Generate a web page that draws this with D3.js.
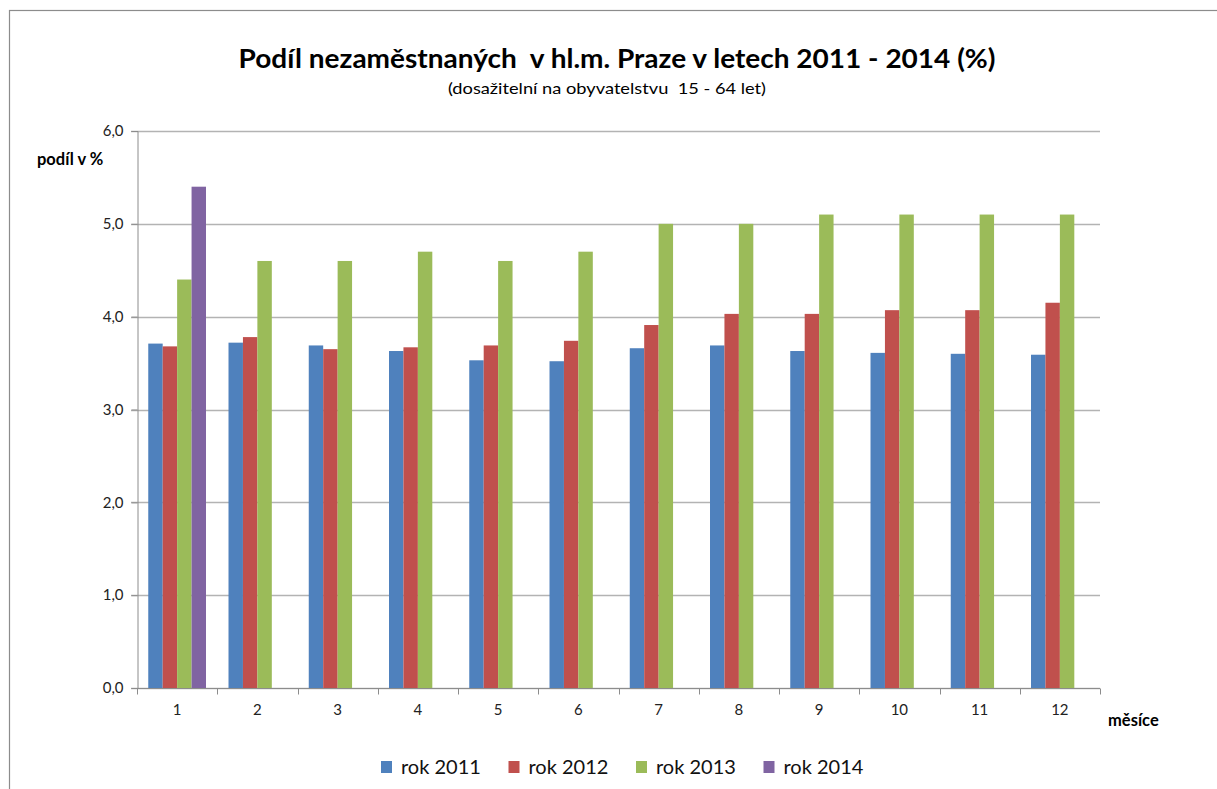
<!DOCTYPE html>
<html>
<head>
<meta charset="utf-8">
<script src="https://cdn.jsdelivr.net/npm/d3@7"></script>
<style>
  body { margin: 0; background: #fff; }
  svg text { font-family: Lato, "Open Sans", sans-serif; white-space: pre; }
</style>
</head>
<body>
<svg id="chart"></svg>
<script>
let width = 1217;
let height = 789;

// data
let months = ["1", "2", "3", "4", "5", "6", "7", "8", "9", "10", "11", "12"];
let years = ["rok 2011", "rok 2012", "rok 2013", "rok 2014"];
let rok2011 = [3.71, 3.72, 3.69, 3.63, 3.53, 3.52, 3.66, 3.69, 3.63, 3.61, 3.60, 3.59];
let rok2012 = [3.68, 3.78, 3.65, 3.67, 3.69, 3.74, 3.91, 4.03, 4.03, 4.07, 4.07, 4.15];
let rok2013 = [4.4, 4.6, 4.6, 4.7, 4.6, 4.7, 5.0, 5.0, 5.1, 5.1, 5.1, 5.1];
let rok2014 = [5.4, null, null, null, null, null, null, null, null, null, null, null];
let yTicks = [0, 1, 2, 3, 4, 5, 6];
let colors = ["#4F81BD", "#C0504D", "#9BBB59", "#8064A2"];

let series = [rok2011, rok2012, rok2013, rok2014];

let margin = { left: 137, right: 117, top: 131, bottom: 101 };

let svg = d3.select("#chart")
    .attr("width", width)
    .attr("height", height)

// outer frame
svg.append("rect")
    .attr("x", 9.5).attr("y", 10.5)
    .attr("width", 1220).attr("height", 790)
    .attr("fill", "none")
    .attr("stroke", "#8c8c8c")
    .attr("stroke-width", 1.2)

let x = d3.scaleBand()
    .domain(months)
    .range([margin.left, width - margin.right])
    .paddingInner(0)
    .paddingOuter(0)

let xInner = d3.scaleBand()
    .domain(years)
    .range([0, x.bandwidth()])
    .paddingOuter(0.78)
    .paddingInner(0)

let y = d3.scaleLinear()
    .domain([0, 6])
    .range([height - margin.bottom, margin.top])

// gridlines
svg.append("g")
    .selectAll("line")
    .data(yTicks)
    .enter()
    .append("line")
    .attr("x1", margin.left - 6)
    .attr("x2", width - margin.right)
    .attr("y1", d => Math.round(y(d)) + 0.5)
    .attr("y2", d => Math.round(y(d)) + 0.5)
    .attr("stroke", "#b3b3b3")
    .attr("stroke-width", 1.3)

// bars
let rows = [];
series.forEach((vals, s) => {
    vals.forEach((v, i) => {
        if (v != null) rows.push({ month: months[i], year: years[s], value: v, s: s })
    })
})

svg.append("g")
    .selectAll("rect")
    .data(rows)
    .enter()
    .append("rect")
    .attr("x", d => x(d.month) + xInner(d.year))
    .attr("y", d => y(d.value))
    .attr("width", xInner.bandwidth())
    .attr("height", d => y(0) - y(d.value))
    .attr("fill", d => colors[d.s])

// y axis
let yAxis = svg.append("g")
    .attr("transform", `translate(${margin.left + 0.5},0)`)
    .call(d3.axisLeft(y).tickValues(yTicks).tickSize(6).tickPadding(8)
        .tickFormat(d => d3.format(".1f")(d).replace(".", ",")))
yAxis.select(".domain").attr("stroke", "#8c8c8c")
yAxis.selectAll(".tick line").attr("stroke", "#8c8c8c")
yAxis.selectAll("text").attr("font-size", "15px").attr("fill", "#222")

// x axis
let xAxis = svg.append("g")
    .attr("transform", `translate(0,${Math.round(y(0)) + 0.5})`)
    .call(d3.axisBottom(x).tickSize(0).tickPadding(16))
xAxis.select(".domain").attr("stroke", "#8c8c8c").attr("d", `M${margin.left},0H${width - margin.right}`)
xAxis.selectAll("text").attr("font-size", "15px").attr("fill", "#222")
// category boundary ticks
xAxis.append("g")
    .selectAll("line")
    .data(months.concat(["end"]))
    .enter()
    .append("line")
    .attr("x1", (d, i) => Math.round(margin.left + i * x.bandwidth()) + 0.5)
    .attr("x2", (d, i) => Math.round(margin.left + i * x.bandwidth()) + 0.5)
    .attr("y1", 0).attr("y2", 6)
    .attr("stroke", "#8c8c8c")

// titles
svg.append("text")
    .attr("x", 617).attr("y", 68)
    .attr("text-anchor", "middle")
    .attr("font-size", "27px")
    .attr("font-weight", "bold")
    .attr("fill", "#000")
    .attr("textLength", 757)
    .attr("lengthAdjust", "spacingAndGlyphs")
    .text("Podíl nezaměstnaných  v hl.m. Praze v letech 2011 - 2014 (%)")

svg.append("text")
    .attr("x", 607).attr("y", 94)
    .attr("text-anchor", "middle")
    .attr("font-size", "15px")
    .attr("fill", "#000")
    .attr("textLength", 318)
    .attr("lengthAdjust", "spacingAndGlyphs")
    .text("(dosažitelní na obyvatelstvu  15 - 64 let)")

svg.append("text")
    .attr("x", 37).attr("y", 165)
    .attr("font-size", "16.5px")
    .attr("font-weight", "bold")
    .text("podíl v %")

svg.append("text")
    .attr("x", 1108).attr("y", 726)
    .attr("font-size", "16.5px")
    .attr("font-weight", "bold")
    .text("měsíce")

// legend
let legend = svg.append("g")
    .selectAll("g")
    .data(years)
    .enter()
    .append("g")
    .attr("transform", (d, i) => `translate(${381 + i * 127.5},761)`)

legend.append("rect")
    .attr("width", 11).attr("height", 12)
    .attr("fill", (d, i) => colors[i])

legend.append("text")
    .attr("x", 20).attr("y", 13)
    .attr("font-size", "20px")
    .attr("fill", "#111")
    .text(d => d)
</script>
</body>
</html>
